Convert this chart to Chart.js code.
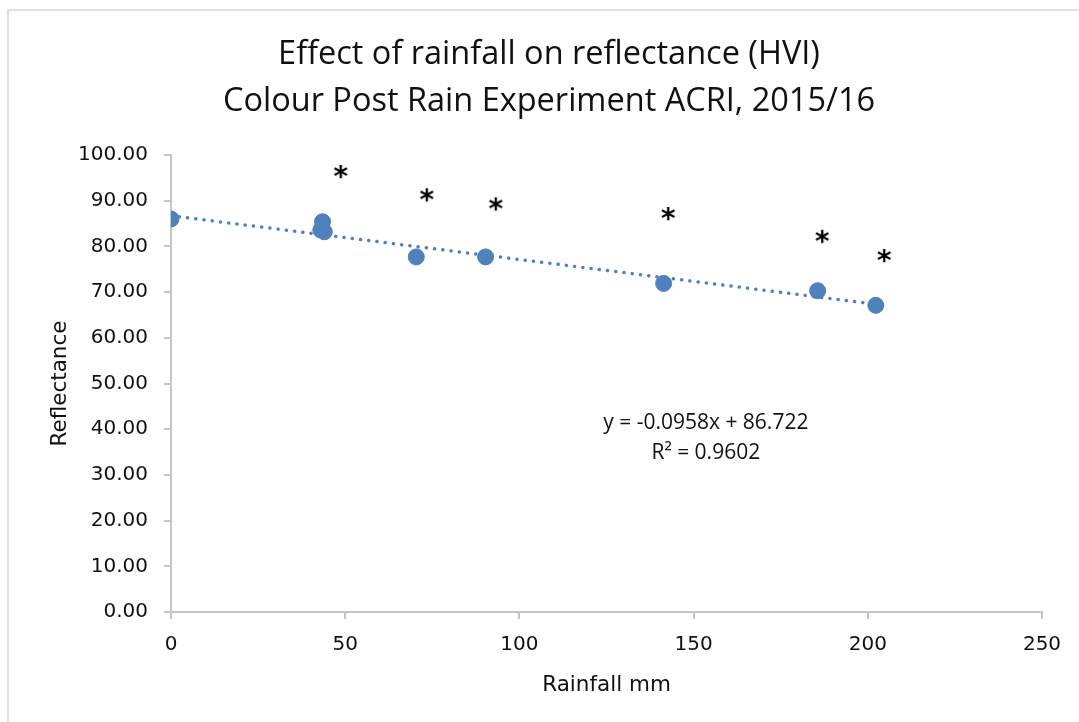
<!DOCTYPE html>
<html lang="en">
<head>
  <meta charset="UTF-8" />
  <title>Effect of rainfall on reflectance (HVI)</title>
  <script src="https://cdn.jsdelivr.net/npm/chart.js"></script>
  <style>
    body { margin: 0; background: #fff; }
    #wrap { width: 1079px; height: 722px; }
  </style>
</head>
<body>
  <div id="wrap"><canvas id="chart" width="1079" height="722"></canvas></div>

  <script>
    // measured points (rainfall mm vs reflectance)
    const rainfall    = [0, 43, 43.5, 44, 70.4, 90.3, 141.4, 185.6, 202.3];
    const reflectance = [86.0, 83.6, 85.4, 83.2, 77.7, 77.7, 71.9, 70.3, 67.1];

    // significance asterisks above the points
    const starRainfall    = [48.7, 73.4, 93.2, 142.7, 186.9, 204.7];
    const starReflectance = [96.3, 91.2, 89.2, 87.1, 82.1, 77.9];

    // linear trendline as printed on the chart
    const trendSlope = -0.0958;
    const trendIntercept = 86.722;
    const equationLines = ['y = -0.0958x + 86.722', 'R² = 0.9602'];

    const titleLines = ['Effect of rainfall on reflectance (HVI)', 'Colour Post Rain Experiment ACRI, 2015/16'];
    const xTicks = [0, 50, 100, 150, 200, 250];
    const yTicks = [0, 10, 20, 30, 40, 50, 60, 70, 80, 90, 100];

    const blue = '#4f81bd';
    const axisGrey = '#c6c6c6';
    const textCol = '#111';

    // little canvas used as the asterisk point style
    const star = document.createElement('canvas');
    star.width = 24; star.height = 24;
    const sc = star.getContext('2d');
    sc.font = 'bold 28px "DejaVu Sans"';
    const m = sc.measureText('*');
    const gh = m.actualBoundingBoxAscent + m.actualBoundingBoxDescent;
    sc.fillStyle = '#000';
    sc.textAlign = 'center';
    sc.textBaseline = 'alphabetic';
    sc.fillText('*', 12, 12 - gh / 2 + m.actualBoundingBoxAscent);

    const trendEnd = Math.max(...rainfall);
    const trendData = [0, trendEnd].map(x => ({ x: x, y: trendSlope * x + trendIntercept }));

    const frameAndText = {
      id: 'frameAndText',
      beforeDraw(chart) {
        const ctx = chart.ctx;
        ctx.save();
        ctx.fillStyle = '#fff';
        ctx.fillRect(0, 0, chart.width, chart.height);
        ctx.strokeStyle = '#d9d9d9';
        ctx.lineWidth = 1.5;
        ctx.strokeRect(8, 10, 1200, 1000);
        ctx.restore();
      },
      afterDraw(chart) {
        const ctx = chart.ctx;
        const xs = chart.scales.x, ys = chart.scales.y;
        ctx.save();
        ctx.fillStyle = textCol;
        ctx.textAlign = 'center';
        ctx.textBaseline = 'middle';
        ctx.font = '32.5px "Open Sans"';
        ctx.fillText(titleLines[0], 549, 55);
        ctx.fillText(titleLines[1], 549, 102);

        ctx.font = '21px "Open Sans"';
        const ex = xs.getPixelForValue(153.5);
        const ey = ys.getPixelForValue(41.4);
        ctx.fillText(equationLines[0], ex, ey);
        ctx.fillText(equationLines[1], ex, ey + 30);
        ctx.restore();
      }
    };

    new Chart(document.getElementById('chart'), {
      type: 'scatter',
      data: {
        datasets: [
          {
            label: 'Linear trend',
            type: 'line',
            data: trendData,
            borderColor: blue,
            borderWidth: 3.5,
            borderDash: [0.1, 8.2],
            borderCapStyle: 'round',
            pointRadius: 0,
            fill: false
          },
          {
            label: 'Reflectance',
            data: rainfall.map((x, i) => ({ x: x, y: reflectance[i] })),
            backgroundColor: blue,
            borderColor: blue,
            pointRadius: 8,
            pointHoverRadius: 8
          },
          {
            label: 'Significance',
            data: starRainfall.map((x, i) => ({ x: x, y: starReflectance[i] })),
            pointStyle: star,
            pointRadius: 10
          }
        ]
      },
      options: {
        responsive: false,
        animation: false,
        events: [],
        layout: { padding: { left: 0, top: 155, right: 37, bottom: 0 } },
        plugins: {
          legend: { display: false },
          tooltip: { enabled: false }
        },
        scales: {
          x: {
            type: 'linear',
            min: 0,
            max: 250,
            afterFit: s => { s.height = 110; },
            afterBuildTicks: s => { s.ticks = xTicks.map(v => ({ value: v })); },
            grid: { drawOnChartArea: false, color: axisGrey, lineWidth: 2, tickLength: 7 },
            border: { color: axisGrey, width: 2 },
            ticks: {
              color: textCol,
              padding: 14,
              maxRotation: 0,
              font: { family: '"DejaVu Sans"', size: 20 }
            },
            title: {
              display: true,
              text: 'Rainfall mm',
              color: textCol,
              padding: { top: 0, bottom: 24 },
              font: { family: '"DejaVu Sans"', size: 21.5 }
            }
          },
          y: {
            type: 'linear',
            min: 0,
            max: 100,
            afterFit: s => { s.width = 171; },
            afterBuildTicks: s => { s.ticks = yTicks.map(v => ({ value: v })); },
            grid: { drawOnChartArea: false, color: axisGrey, lineWidth: 2, tickLength: 7 },
            border: { color: axisGrey, width: 2 },
            ticks: {
              color: textCol,
              padding: 16,
              callback: v => Number(v).toFixed(2),
              font: { family: '"DejaVu Sans"', size: 20 }
            },
            title: {
              display: true,
              text: 'Reflectance',
              color: textCol,
              padding: { top: 48, bottom: 0 },
              font: { family: '"DejaVu Sans"', size: 21.5 }
            }
          }
        }
      },
      plugins: [frameAndText]
    });
  </script>
</body>
</html>
